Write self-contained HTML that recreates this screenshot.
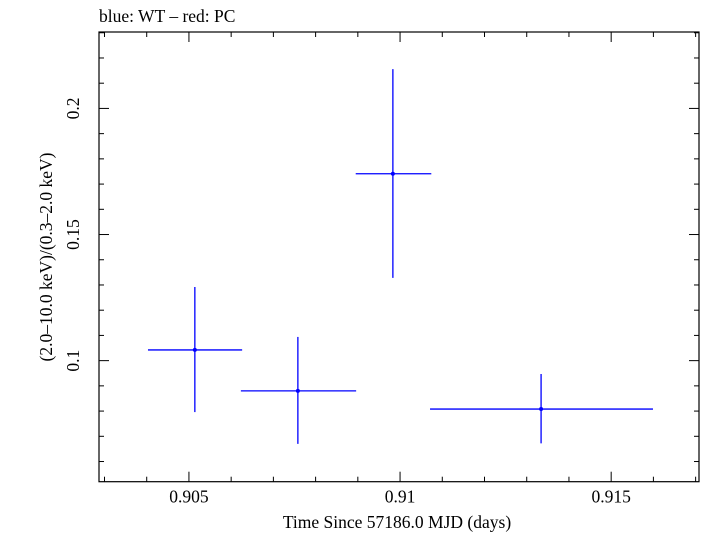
<!DOCTYPE html>
<html><head><meta charset="utf-8"><style>
body{margin:0;background:#fff;}
svg text{font-family:"Liberation Serif",serif;fill:#000;}
</style></head><body>
<svg id="chart" width="705" height="532" xmlns="http://www.w3.org/2000/svg">
<text x="99" y="22" font-size="17.5">blue: WT – red: PC</text>
<rect x="99" y="32" width="600" height="449.7" fill="none" stroke="#000" stroke-width="1.2"/>
<g id="axes"></g>
<g id="marks"></g>
<text x="397" y="528" font-size="17.5" text-anchor="middle">Time Since 57186.0 MJD (days)</text>
<text transform="translate(52,257) rotate(-90)" font-size="17.5" text-anchor="middle">(2.0–10.0 keV)/(0.3–2.0 keV)</text>
</svg>
<script>
const xCenters=[0.90514,0.90758,0.90983,0.91334];
const xLow=[0.90403,0.90623,0.90895,0.91071];
const xHigh=[0.90626,0.90896,0.91074,0.91599];
const yValues=[0.10425,0.0880,0.1741,0.0808];
const yLow=[0.0796,0.0670,0.1328,0.0672];
const yHigh=[0.1292,0.1094,0.2156,0.0947];
const xTickLabels=["0.905","0.91","0.915"];
const xTickValues=[0.905,0.91,0.915];
const yTickLabels=["0.1","0.15","0.2"];
const yTickValues=[0.1,0.15,0.2];

const L=99,R=699,T=32,B=481.7;
const X0=0.90287,X1=0.91708,Y0=0.052,Y1=0.2303;
const sx=v=>L+(v-X0)/(X1-X0)*(R-L);
const sy=v=>B-(v-Y0)/(Y1-Y0)*(B-T);
const NS="http://www.w3.org/2000/svg";
const axes=document.getElementById('axes'),marks=document.getElementById('marks');
function mk(tag,attrs,parent){const e=document.createElementNS(NS,tag);for(const k in attrs)e.setAttribute(k,attrs[k]);parent.appendChild(e);return e;}
for(let i=0;i<=15;i++){const v=Math.round((0.903+i*0.001)*1000)/1000;if(v<X0||v>X1)continue;const x=sx(v);const major=xTickValues.some(t=>Math.abs(t-v)<1e-9);const len=major?10:5;
 const t1=mk('line',{x1:x,x2:x,y1:B,y2:B-len,stroke:'#000','stroke-width':1},axes);
 
 
 const t2=mk('line',{x1:x,x2:x,y1:T,y2:T+len,stroke:'#000','stroke-width':1},axes);
 
 }
xTickValues.forEach((v,i)=>{const t=mk('text',{x:sx(v),y:B+21,'font-size':17.5,'text-anchor':'middle'},axes);t.textContent=xTickLabels[i];
 
 });
for(let i=0;i<=20;i++){const v=Math.round((0.05+i*0.01)*100)/100;if(v<Y0||v>Y1)continue;const y=sy(v);const major=yTickValues.some(t=>Math.abs(t-v)<1e-9);const len=major?10:5;
 const t1=mk('line',{x1:L,x2:L+len,y1:y,y2:y,stroke:'#000','stroke-width':1},axes);
 
 
 const t2=mk('line',{x1:R,x2:R-len,y1:y,y2:y,stroke:'#000','stroke-width':1},axes);
 
 }
yTickValues.forEach((v,i)=>{const t=mk('text',{transform:`translate(${L-20},${sy(v)}) rotate(-90)`,'font-size':17.5,'text-anchor':'middle'},axes);t.textContent=yTickLabels[i];
 
 });
xCenters.forEach((xc,i)=>{
 const g=mk('g',{},marks);
 
 
 mk('line',{x1:sx(xLow[i]),x2:sx(xHigh[i]),y1:sy(yValues[i]),y2:sy(yValues[i]),stroke:'#0000ff','stroke-width':1.3},g);
 mk('line',{x1:sx(xc),x2:sx(xc),y1:sy(yLow[i]),y2:sy(yHigh[i]),stroke:'#0000ff','stroke-width':1.3},g);
 mk('circle',{cx:sx(xc),cy:sy(yValues[i]),r:2,fill:'#0000ff'},g);
});
</script>
</body></html>
